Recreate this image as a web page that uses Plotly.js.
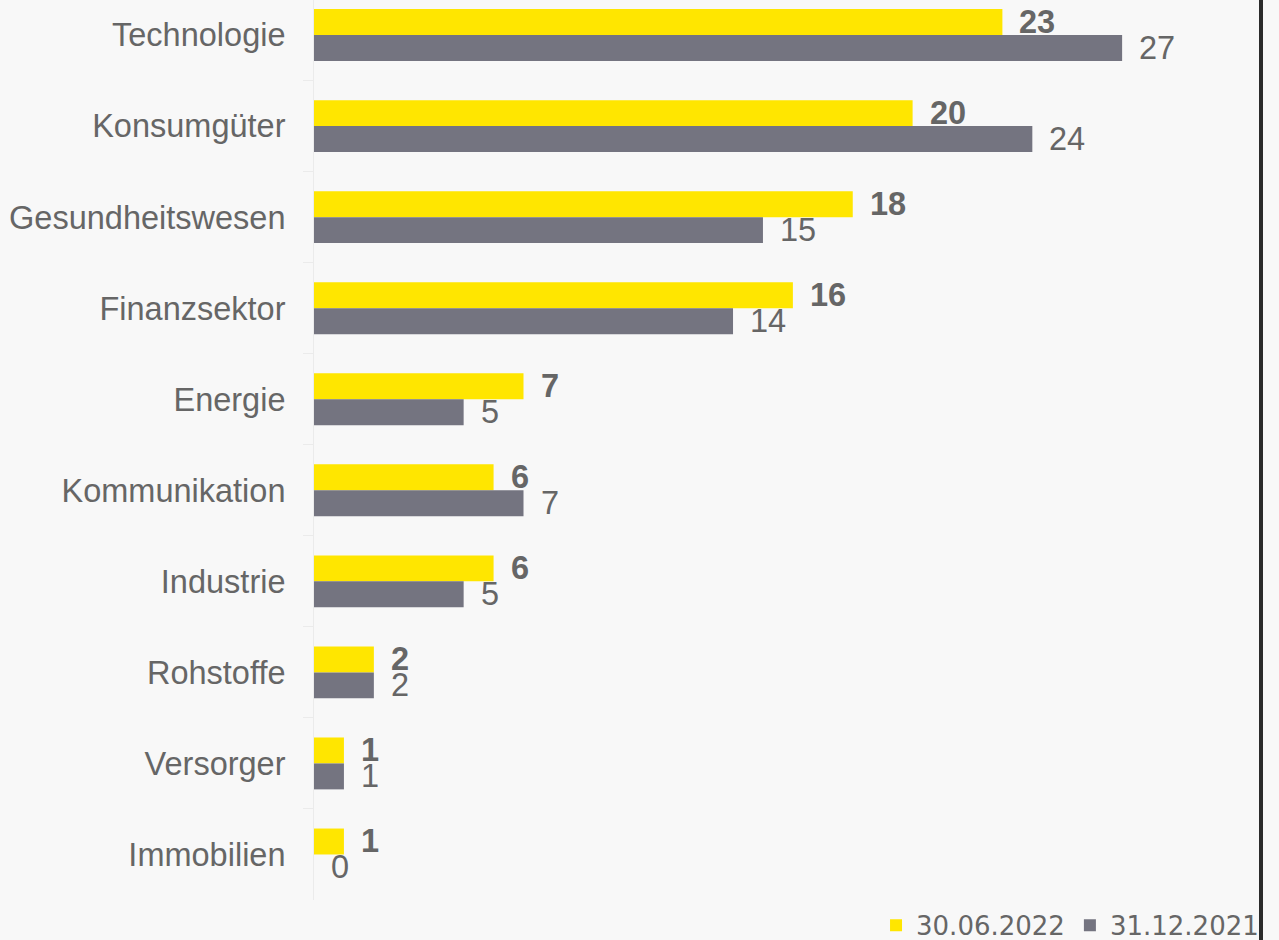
<!DOCTYPE html>
<html>
<head>
<meta charset="utf-8">
<script src="https://cdn.plot.ly/plotly-3.0.1.min.js"></script>
<style>
html,body{margin:0;padding:0;background:#f8f8f8;overflow:hidden;}
#chart{width:1279px;height:940px;}
</style>
</head>
<body>
<div id="chart"></div>
<script>
const categories = ["Technologie","Konsumgüter","Gesundheitswesen","Finanzsektor","Energie","Kommunikation","Industrie","Rohstoffe","Versorger","Immobilien"];
const values2022 = [23,20,18,16,7,6,6,2,1,1];
const values2021 = [27,24,15,14,5,7,5,2,1,0];
const seriesNames = ["30.06.2022","31.12.2021"];

const yellow = "#FFE600";
const grey = "#747480";
const textColor = "#666666";
const labelFont = "Liberation Sans";

const traces = [
  {type:"bar", orientation:"h", name:seriesNames[0], y:categories, x:values2022,
   marker:{color:yellow, line:{width:0}}, hoverinfo:"none"},
  {type:"bar", orientation:"h", name:seriesNames[1], y:categories, x:values2021,
   marker:{color:grey, line:{width:0}}, hoverinfo:"none"}
];

const annotations = [];
categories.forEach((c,i)=>{
  annotations.push({x:values2022[i], y:c, xref:"x", yref:"y", text:"<b>"+values2022[i]+"</b>",
    showarrow:false, xanchor:"left", yanchor:"middle", xshift:15, yshift:13,
    font:{family:labelFont, size:32.5, color:textColor}});
  annotations.push({x:values2021[i], y:c, xref:"x", yref:"y", text:String(values2021[i]),
    showarrow:false, xanchor:"left", yanchor:"middle", xshift:15, yshift:-13,
    font:{family:labelFont, size:32.5, color:textColor}});
});

const layout = {
  width:1279, height:940,
  margin:{l:314, r:18, t:0, b:40, autoexpand:false},
  paper_bgcolor:"#f8f8f8", plot_bgcolor:"#f8f8f8",
  barmode:"group", bargap:0.43, bargroupgap:0,
  showlegend:true,
  legend:{orientation:"h", x:1.0032, xanchor:"right", y:-0.002, yanchor:"top",
    bgcolor:"rgba(0,0,0,0)", font:{family:"DejaVu Sans", size:26, color:textColor},
    traceorder:"normal"},
  xaxis:{range:[0,31.64], visible:false, fixedrange:true},
  yaxis:{type:"category", categoryorder:"array", categoryarray:categories,
    range:[9.5,-0.385], showgrid:false, zeroline:false,
    showline:true, linecolor:"#ebebeb", linewidth:1,
    ticks:"outside", tickson:"boundaries", ticklen:10, tickcolor:"#ebebeb",
    ticklabelstandoff:21,
    tickfont:{family:labelFont, size:32.5, color:textColor}},
  annotations:annotations,
  shapes:[
    {type:"line", xref:"paper", yref:"paper", x0:1, x1:1, y0:-0.05, y1:1.01,
     line:{color:"#2b2b2b", width:4}, layer:"above"}
  ]
};

Plotly.newPlot("chart", traces, layout, {displayModeBar:false, staticPlot:true});
</script>
</body>
</html>
